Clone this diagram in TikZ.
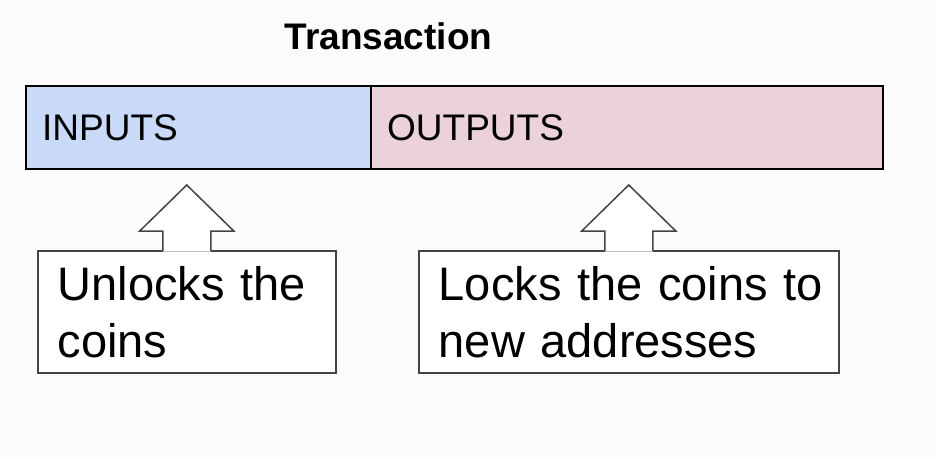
\documentclass[tikz,border=0pt]{standalone}
\usepackage{fontspec}
\setmainfont{Liberation Sans}
\usepackage{tikz}
\usetikzlibrary{positioning, calc}
\definecolor{paper}{HTML}{FBFBFB}
\definecolor{inblue}{HTML}{C9DAF8}
\definecolor{outpink}{HTML}{EAD1DC}
\definecolor{edge}{HTML}{444444}
\tikzset{
  part/.style={draw=black, line width=2.4pt, anchor=north west, minimum height=83pt,
    inner xsep=16pt, align=left, font=\fontsize{37}{44}\selectfont},
  notebox/.style={draw=edge, line width=1.5pt, fill=white, anchor=north west, minimum height=122pt,
    inner xsep=20pt, align=left, font=\fontsize{47}{57}\selectfont},
  callarrow/.style={draw=edge, line width=1.5pt, line join=miter}
}
\begin{document}
\begin{tikzpicture}[x=1pt, y=-1pt]
\fill[paper] (0,0) rectangle (936,458);
\useasboundingbox (0,0) rectangle (936,458);
% Title
\node[font=\fontsize{37}{44}\selectfont\bfseries] (title) at (388.5,36) {Transaction};
% Transaction bar
\node[part, fill=inblue, minimum width=345pt, text width=313pt] (inputs) at (25,85) {INPUTS};
\node[part, fill=outpink, minimum width=512pt, text width=480pt] (outputs) at (370,85) {OUTPUTS};
% Callout boxes
\node[notebox, minimum width=298pt, text width=258pt] (unlock) at (37,250) {\mbox{Unlocks the}\\coins};
\node[notebox, minimum width=420pt, text width=380pt] (lock) at (418,250) {\mbox{Locks the coins to}\\\mbox{new addresses}};
% Arrows on the boxes
\fill[white] ([xshift=-24pt, yshift=-1.5pt]unlock.north) -- ++(0,20.5pt) -- ++(-23pt,0) -- ++(47pt,46pt)
  -- ++(47pt,-46pt) -- ++(-23pt,0) -- ++(0,-20.5pt) -- cycle;
\draw[callarrow] ([xshift=-24pt, yshift=-0.8pt]unlock.north) -- ++(0,19.8pt) -- ++(-23pt,0) -- ++(47pt,46pt)
  -- ++(47pt,-46pt) -- ++(-23pt,0) -- ++(0,-19.8pt);
\fill[white] ([xshift=-24pt, yshift=-1.5pt]lock.north) -- ++(0,20.5pt) -- ++(-23pt,0) -- ++(47pt,46pt)
  -- ++(47pt,-46pt) -- ++(-23pt,0) -- ++(0,-20.5pt) -- cycle;
\draw[callarrow] ([xshift=-24pt, yshift=-0.8pt]lock.north) -- ++(0,19.8pt) -- ++(-23pt,0) -- ++(47pt,46pt)
  -- ++(47pt,-46pt) -- ++(-23pt,0) -- ++(0,-19.8pt);
\end{tikzpicture}
\end{document}
